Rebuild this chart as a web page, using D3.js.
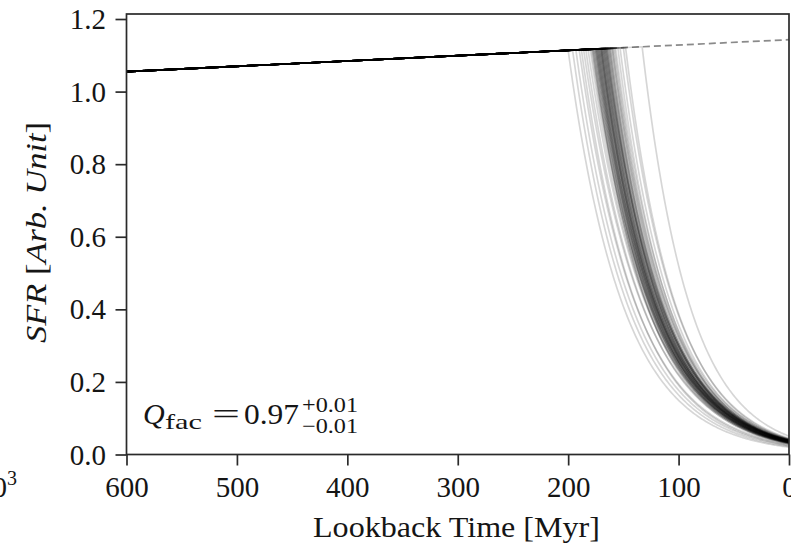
<!DOCTYPE html>
<html>
<head>
<meta charset="utf-8">
<script src="https://cdn.jsdelivr.net/npm/d3@7"></script>
<style>
  body { margin: 0; background: #fff; }
  svg text { font-family: "Liberation Serif", "Times New Roman", serif; fill: #151515; }
</style>
</head>
<body>
<div id="chart"></div>
<script>
// star-forming sequence, read at the two ends of the axis
const baseTime = [600, 0];
const baseSfr = [1.055, 1.143];

// posterior samples: quench time (Myr) and quenched fraction
const quenchTimes = [200, 196, 193, 190, 188, 186, 184, 182, 180, 179, 178, 178, 177, 177, 176, 176,
  175, 175, 175, 174, 174, 174, 173, 173, 173, 172, 172, 172, 171, 171, 171, 170, 170, 170, 170, 169,
  169, 169, 168, 168, 168, 167, 167, 167, 166, 166, 166, 165, 165, 165, 164, 164, 163, 163, 162, 162,
  161, 160, 160, 159, 158, 157, 155, 153, 150, 148, 133];
const qFactors = [0.982, 0.98, 0.978, 0.975, 0.977, 0.97, 0.972, 0.968, 0.97, 0.965, 0.972, 0.969, 0.974,
  0.967, 0.971, 0.97, 0.966, 0.973, 0.968, 0.97, 0.964, 0.971, 0.967, 0.969, 0.973, 0.97, 0.966, 0.972,
  0.968, 0.971, 0.965, 0.97, 0.969, 0.967, 0.972, 0.966, 0.97, 0.968, 0.965, 0.971, 0.967, 0.969, 0.964,
  0.97, 0.966, 0.968, 0.963, 0.967, 0.965, 0.969, 0.966, 0.97, 0.967, 0.965, 0.968, 0.966, 0.967, 0.964,
  0.966, 0.963, 0.965, 0.962, 0.966, 0.963, 0.96, 0.962, 0.955];

const xTicks = [600, 500, 400, 300, 200, 100, 0];
const yTicks = [0.0, 0.2, 0.4, 0.6, 0.8, 1.0, 1.2];

const W = 791, H = 548;
const pLeft = 126.5, pRight = 789, pTop = 14, pBottom = 454.5;
const serif = "Liberation Serif, Times New Roman, serif";

const svg = d3.select("#chart").append("svg")
  .attr("width", W)
  .attr("height", H);

const x = d3.scaleLinear().domain([600, 0]).range([pLeft, pRight]);
const y = d3.scaleLinear().domain([0, 1.2138]).range([pBottom, pTop]);
const sfrBase = d3.scaleLinear().domain(baseTime).range(baseSfr);

const line = d3.line().x(d => x(d[0])).y(d => y(d[1]));

const plot = svg.append("g");

// dashed continuation of the sequence
plot.append("path")
  .datum(baseTime.map(t => [t, sfrBase(t)]))
  .attr("d", line)
  .attr("fill", "none")
  .attr("stroke", "#8a8a8a")
  .attr("stroke-width", 1.7)
  .attr("stroke-dasharray", "7,4");

// each sample: sequence until quench, then decay to (1-Q) of it at t=0
quenchTimes.forEach((tq, i) => {
  const q = qFactors[i];
  const s0 = sfrBase(tq);
  const pts = [[600, sfrBase(600)], [tq, s0]];
  for (let t = tq - 1; t >= 0; t -= 1) {
    pts.push([t, s0 * Math.pow(1 - q, (tq - t) / tq)]);
  }
  plot.append("path")
    .datum(pts)
    .attr("d", line)
    .attr("fill", "none")
    .attr("stroke", "#000")
    .attr("stroke-opacity", 0.16)
    .attr("stroke-width", 1.7);
});

// frame
svg.append("rect")
  .attr("x", pLeft).attr("y", pTop)
  .attr("width", pRight - pLeft).attr("height", pBottom - pTop)
  .attr("fill", "none")
  .attr("stroke", "#2a2a2a")
  .attr("stroke-width", 1.7);

// axes
const xAxis = svg.append("g")
  .attr("transform", `translate(0,${pBottom})`)
  .call(d3.axisBottom(x).tickValues(xTicks).tickFormat(d3.format("d")).tickSize(11));
const yAxis = svg.append("g")
  .attr("transform", `translate(${pLeft},0)`)
  .call(d3.axisLeft(y).tickValues(yTicks).tickFormat(d3.format(".1f")).tickSize(11).tickPadding(9.5));

[xAxis, yAxis].forEach(a => {
  a.attr("font-family", serif).attr("font-size", 29);
  a.select(".domain").remove();
  a.selectAll("line").attr("stroke", "#2a2a2a").attr("stroke-width", 1.7);
  a.selectAll("text").style("font-family", serif).attr("font-size", 29).attr("fill", "#151515");
});
xAxis.selectAll("text").attr("y", 42.5).attr("dy", null);
yAxis.selectAll("text").attr("dy", "0.33em");

// axis labels
svg.append("text")
  .attr("x", 313)
  .attr("y", 537)
  .attr("font-size", 29)
  .attr("textLength", 287)
  .attr("lengthAdjust", "spacingAndGlyphs")
  .text("Lookback Time [Myr]");

const yl = svg.append("text")
  .attr("transform", "translate(46,343) rotate(-90)")
  .attr("font-size", 29)
  .attr("textLength", 221)
  .attr("lengthAdjust", "spacingAndGlyphs");
yl.append("tspan").attr("font-style", "italic").text("SFR ");
yl.append("tspan").text("[");
yl.append("tspan").attr("font-style", "italic").text("Arb. Unit");
yl.append("tspan").text("]");

// quenched fraction annotation
svg.append("text").attr("x", 143).attr("y", 424).attr("font-size", 30)
  .attr("font-style", "italic").text("Q");
svg.append("text").attr("x", 165).attr("y", 429).attr("font-size", 21)
  .attr("textLength", 37).attr("lengthAdjust", "spacingAndGlyphs").text("fac");
svg.append("text").attr("x", 212).attr("y", 424).attr("font-size", 30)
  .attr("textLength", 28).attr("lengthAdjust", "spacingAndGlyphs").text("=");
svg.append("text").attr("x", 244).attr("y", 424).attr("font-size", 30)
  .attr("textLength", 55).attr("lengthAdjust", "spacingAndGlyphs").text("0.97");
const pm = svg.append("text").attr("x", 302).attr("y", 412).attr("font-size", 21);
pm.append("tspan").attr("x", 302).attr("y", 412)
  .attr("textLength", 56).attr("lengthAdjust", "spacingAndGlyphs").text("+0.01");
pm.append("tspan").attr("x", 302).attr("y", 433)
  .attr("textLength", 56).attr("lengthAdjust", "spacingAndGlyphs").text("\u22120.01");

// neighbouring panel's tick label, cut by the edge
svg.append("text").attr("x", 7).attr("y", 497).attr("text-anchor", "end").attr("font-size", 29).text("10");
svg.append("text").attr("x", 7).attr("y", 485).attr("font-size", 20).text("3");
</script>
</body>
</html>
